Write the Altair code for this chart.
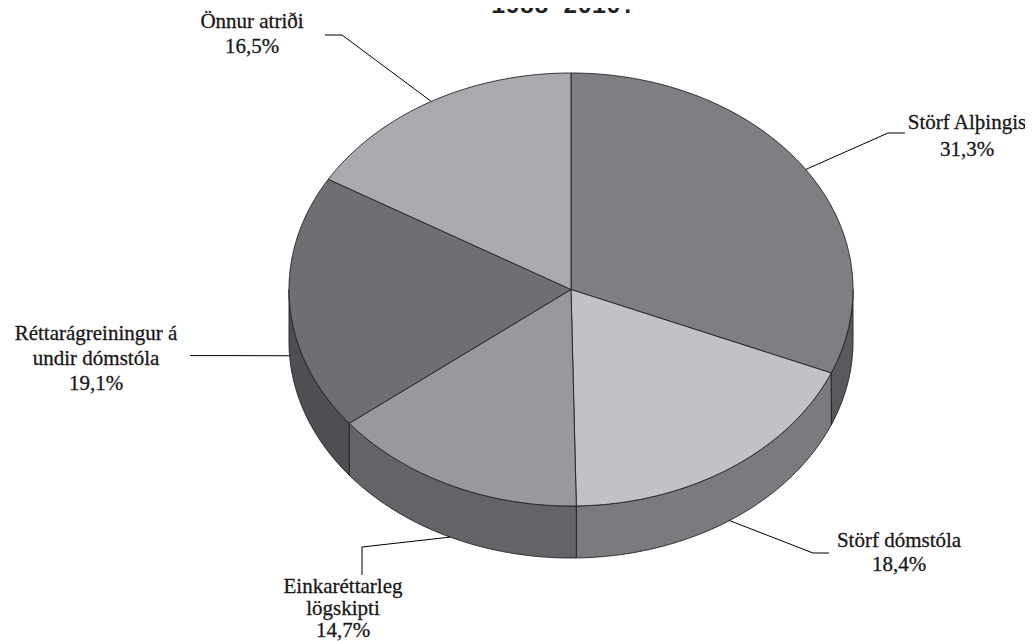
import numpy as np
import pandas as pd
import altair as alt

# ---------------- data ----------------
categories = ["Störf Alþingis", "Störf dómstóla", "Einkaréttarleg lögskipti",
              "Réttarágreiningur á undir dómstóla", "Önnur atriði"]
values = [31.3, 18.4, 14.7, 19.1, 16.5]
label_lines = [["Störf Alþingis"], ["Störf dómstóla"], ["Einkaréttarleg", "lögskipti"],
               ["Réttarágreiningur á", "undir dómstóla"], ["Önnur atriði"]]
title_text = "1988-2010."

# ---------------- style ----------------
top_colors = ["#7e7f83", "#c1c2c5", "#98999d", "#6e6f73", "#a9aaae"]
side_colors = ["#58595c", "#7a7b7f", "#636467", "#4e4f52", "#7e7f83"]
edge = "#231f20"
SERIF = "Liberation Serif, DejaVu Serif"
W, H = 1017, 633
CX, CY, RX, RY, DEPTH = 563, 281.5, 282, 216.5, 52
# label layout (center x, first baseline, line height) and leader elbow/end points
label_pos = [(244, 20, 25), ]
label_pos = [(959, 121, 27), (891, 539, 24), (335, 585, 22), (88, 332, 25), (244, 20, 25)]
leader_elbow = [(880, 125), (805, 545), (354, 539), (220, 347.6), (334, 27)]
leader_end = [(897, 125), (821, 545), (354, 567), (182, 347.6), (317, 27)]


def pt(theta_deg, dz=0.0):
    t = np.radians(theta_deg)
    return CX + RX * np.sin(t), CY - RY * np.cos(t) + dz


total = sum(values)
bounds = np.concatenate([[0], np.cumsum(values)]) / total * 360.0


def arc(a, b, dz=0.0):
    n = max(2, int(abs(b - a) / 0.5) + 1)
    return [pt(t, dz) for t in np.linspace(a, b, n)]


xs = alt.Scale(domain=[0, W], range=[0, W], zero=False, nice=False)
ys = alt.Scale(domain=[0, H], range=[0, H], zero=False, nice=False)

layers = []


def poly_layer(points, fill, name):
    df = pd.DataFrame({"x": [p[0] for p in points], "y": [p[1] for p in points],
                       "i": range(len(points)), "slice": name})
    return alt.Chart(df).mark_line(fill=fill, stroke=edge, strokeWidth=0.9,
                                   strokeJoin="round").encode(
        x=alt.X("x:Q", scale=xs, axis=None),
        y=alt.Y("y:Q", scale=ys, axis=None),
        order="i:Q")


# side walls (visible front half: 90..270 degrees)
for k in range(len(values)):
    a, b = max(bounds[k], 90), min(bounds[k + 1], 270)
    if b <= a:
        continue
    top_edge = arc(a, b, 0)
    bottom_edge = arc(b, a, DEPTH)
    pts = top_edge + bottom_edge + [top_edge[0]]
    layers.append(poly_layer(pts, side_colors[k], categories[k] + " side"))

# top faces
for k in range(len(values)):
    pts = [(CX, CY)] + arc(bounds[k], bounds[k + 1], 0) + [(CX, CY)]
    layers.append(poly_layer(pts, top_colors[k], categories[k]))

# leader lines
rows = []
for k in range(len(values)):
    mid = (bounds[k] + bounds[k + 1]) / 2
    front = 90 < mid < 270
    ax, ay = pt(mid, DEPTH if front else 0)
    for j, (x, y) in enumerate([(ax, ay), leader_elbow[k], leader_end[k]]):
        rows.append({"x": x, "y": y, "i": j, "slice": categories[k]})
leaders = alt.Chart(pd.DataFrame(rows)).mark_line(color="#000000", strokeWidth=1).encode(
    x=alt.X("x:Q", scale=xs, axis=None),
    y=alt.Y("y:Q", scale=ys, axis=None),
    detail="slice:N", order="i:Q")
layers.append(leaders)

# labels
trows = []
for k in range(len(values)):
    lx, ly, lh = label_pos[k]
    lines = label_lines[k] + [f"{values[k]:.1f}".replace(".", ",") + "%"]
    for j, s in enumerate(lines):
        trows.append({"x": lx, "y": ly + j * lh, "text": s})
labels = alt.Chart(pd.DataFrame(trows)).mark_text(
    font=SERIF, fontSize=21, align="center", baseline="alphabetic",
    color="#1a1718", stroke="#1a1718", strokeWidth=0.3).encode(
    x=alt.X("x:Q", scale=xs, axis=None),
    y=alt.Y("y:Q", scale=ys, axis=None),
    text="text:N")
layers.append(labels)

# chart title (cut off at the top edge, as in the source image)
title = alt.Chart(pd.DataFrame({"x": [555], "y": [5], "text": [title_text]})).mark_text(
    font="Liberation Mono", fontSize=24, fontWeight="bold",
    align="center", baseline="alphabetic", color="#231f20").encode(
    x=alt.X("x:Q", scale=xs, axis=None),
    y=alt.Y("y:Q", scale=ys, axis=None),
    text="text:N")
layers.append(title)

chart = alt.layer(*layers).properties(
    width=W, height=H, autosize="none", padding=0
).configure_view(stroke=None)

chart.save("out.html", embed_options={"renderer": "svg", "actions": False})
